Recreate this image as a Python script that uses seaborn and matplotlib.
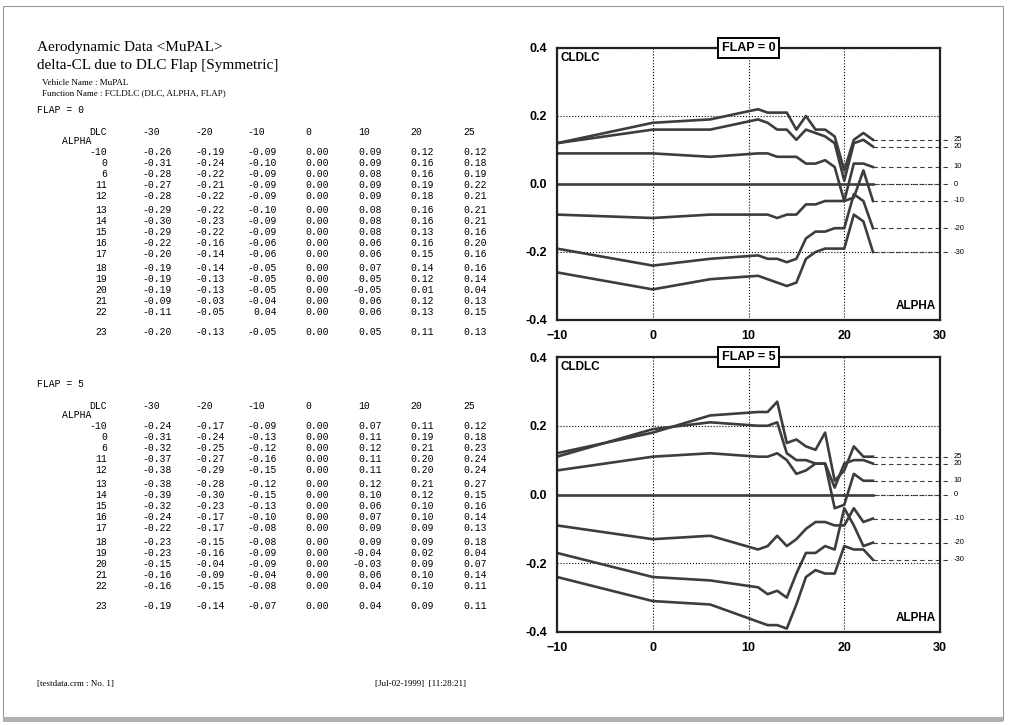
import numpy as np
import pandas as pd
import seaborn as sns
import matplotlib.pyplot as plt
from matplotlib.patches import Rectangle

# ---- data ----
alpha = [-10, 0, 6, 11, 12, 13, 14, 15, 16, 17, 18, 19, 20, 21, 22, 23]
dlc = [-30, -20, -10, 0, 10, 20, 25]

# CLDLC for FLAP = 0, one row per ALPHA, one column per DLC
flap0 = [
    [-0.26, -0.19, -0.09, 0.00, 0.09, 0.12, 0.12],
    [-0.31, -0.24, -0.10, 0.00, 0.09, 0.16, 0.18],
    [-0.28, -0.22, -0.09, 0.00, 0.08, 0.16, 0.19],
    [-0.27, -0.21, -0.09, 0.00, 0.09, 0.19, 0.22],
    [-0.28, -0.22, -0.09, 0.00, 0.09, 0.18, 0.21],
    [-0.29, -0.22, -0.10, 0.00, 0.08, 0.16, 0.21],
    [-0.30, -0.23, -0.09, 0.00, 0.08, 0.16, 0.21],
    [-0.29, -0.22, -0.09, 0.00, 0.08, 0.13, 0.16],
    [-0.22, -0.16, -0.06, 0.00, 0.06, 0.16, 0.20],
    [-0.20, -0.14, -0.06, 0.00, 0.06, 0.15, 0.16],
    [-0.19, -0.14, -0.05, 0.00, 0.07, 0.14, 0.16],
    [-0.19, -0.13, -0.05, 0.00, 0.05, 0.12, 0.14],
    [-0.19, -0.13, -0.05, 0.00, -0.05, 0.01, 0.04],
    [-0.09, -0.03, -0.04, 0.00, 0.06, 0.12, 0.13],
    [-0.11, -0.05, 0.04, 0.00, 0.06, 0.13, 0.15],
    [-0.20, -0.13, -0.05, 0.00, 0.05, 0.11, 0.13],
]

# CLDLC for FLAP = 5
flap5 = [
    [-0.24, -0.17, -0.09, 0.00, 0.07, 0.11, 0.12],
    [-0.31, -0.24, -0.13, 0.00, 0.11, 0.19, 0.18],
    [-0.32, -0.25, -0.12, 0.00, 0.12, 0.21, 0.23],
    [-0.37, -0.27, -0.16, 0.00, 0.11, 0.20, 0.24],
    [-0.38, -0.29, -0.15, 0.00, 0.11, 0.20, 0.24],
    [-0.38, -0.28, -0.12, 0.00, 0.12, 0.21, 0.27],
    [-0.39, -0.30, -0.15, 0.00, 0.10, 0.12, 0.15],
    [-0.32, -0.23, -0.13, 0.00, 0.06, 0.10, 0.16],
    [-0.24, -0.17, -0.10, 0.00, 0.07, 0.10, 0.14],
    [-0.22, -0.17, -0.08, 0.00, 0.09, 0.09, 0.13],
    [-0.23, -0.15, -0.08, 0.00, 0.09, 0.09, 0.18],
    [-0.23, -0.16, -0.09, 0.00, -0.04, 0.02, 0.04],
    [-0.15, -0.04, -0.09, 0.00, -0.03, 0.09, 0.07],
    [-0.16, -0.09, -0.04, 0.00, 0.06, 0.10, 0.14],
    [-0.16, -0.15, -0.08, 0.00, 0.04, 0.10, 0.11],
    [-0.19, -0.14, -0.07, 0.00, 0.04, 0.09, 0.11],
]

W, H = 1009, 725
line_color = "#3d3d3d"
serif = "Liberation Serif"
mono = "Liberation Mono"
sans = "Liberation Sans"
tsize = 7


def fx(x):
    return x / W


def fy(y):
    return 1 - y / H


def draw_table(fig, table, flap, y0):
    # y0 = pixel row of the "FLAP = n" line
    fig.text(fx(37), fy(y0), f"FLAP = {flap}", family=mono, size=tsize, va="center")
    col_right = [172 + 52.4 * j for j in range(len(dlc))]
    cw = 0.6 * tsize * 100 / 72
    yh = y0 + 22
    fig.text(fx(107), fy(yh), "DLC", family=mono, size=tsize, va="center", ha="right")
    for j, d in enumerate(dlc):
        first = f"{table[0][j]:.2f}"
        fig.text(fx(col_right[j] - len(first) * cw), fy(yh), str(d),
                 family=mono, size=tsize, va="center", ha="left")
    fig.text(fx(62), fy(yh + 9), "ALPHA", family=mono, size=tsize, va="center")
    y = yh + 20
    for i, a in enumerate(alpha):
        if a in (13, 18):
            y += 3
        if a == 23:
            y += 9
        fig.text(fx(107), fy(y), str(a), family=mono, size=tsize, va="center", ha="right")
        for j in range(len(dlc)):
            fig.text(fx(col_right[j]), fy(y), f"{table[i][j]:.2f}",
                     family=mono, size=tsize, va="center", ha="right")
        y += 11


def draw_chart(ax, table, flap):
    df = pd.DataFrame(table, index=alpha, columns=dlc)
    long = (df.reset_index().rename(columns={"index": "ALPHA"})
            .melt(id_vars="ALPHA", var_name="DLC", value_name="CLDLC"))
    sns.lineplot(data=long, x="ALPHA", y="CLDLC", hue="DLC",
                 palette=[line_color] * len(dlc), legend=False,
                 estimator=None, lw=1.9, ax=ax)

    for d in dlc:
        last = df[d].iloc[-1]
        ax.plot([alpha[-1], 31.2], [last, last], ls=(0, (4, 3)),
                color=line_color, lw=0.8, clip_on=False)
        ax.text(31.4, last, str(d), family=sans, size=5.5, va="center",
                ha="left", clip_on=False)

    ax.set_xlim(-10, 30)
    ax.set_ylim(-0.4, 0.4)
    ax.set_xticks([-10, 0, 10, 20, 30])
    ax.set_yticks([-0.4, -0.2, 0.0, 0.2, 0.4])
    ax.set_yticklabels([f"{v:.1f}" for v in [-0.4, -0.2, 0.0, 0.2, 0.4]])
    ax.grid(True, ls=":", color="black", lw=0.8)
    ax.set_xlabel("")
    ax.set_ylabel("")
    ax.tick_params(length=0, pad=7, labelsize=9)
    for lab in ax.get_xticklabels() + ax.get_yticklabels():
        lab.set_fontfamily(sans)
        lab.set_fontweight("bold")
    for s in ax.spines.values():
        s.set_linewidth(1.6)
        s.set_color("#222222")

    ax.text(0.01, 0.985, "CLDLC", transform=ax.transAxes, family=sans,
            weight="bold", size=8.5, va="top", ha="left")
    ax.text(0.99, 0.03, "ALPHA", transform=ax.transAxes, family=sans,
            weight="bold", size=8.5, va="bottom", ha="right")
    ax.text(0.5, 1.0, f"FLAP = {flap}", transform=ax.transAxes, family=sans,
            weight="bold", size=9, va="center", ha="center",
            bbox=dict(boxstyle="square,pad=0.3", fc="white", ec="black", lw=1.4))


fig = plt.figure(figsize=(W / 100, H / 100), dpi=100)
fig.patch.set_facecolor("white")

# page border of the scanned sheet
fig.add_artist(Rectangle((fx(3), fy(720)), fx(1003 - 3), (720 - 6) / H,
                         fill=False, ec="#9a9a9a", lw=0.8))
fig.add_artist(Rectangle((fx(3), fy(722)), fx(1003 - 3), 5 / H,
                         fc="#b0b0b0", ec="none"))

# header text
fig.text(fx(37), fy(48), "Aerodynamic Data <MuPAL>", family=serif, size=11, va="center")
fig.text(fx(37), fy(66), "delta-CL due to DLC Flap [Symmetric]", family=serif, size=11, va="center")
fig.text(fx(42), fy(83), "Vehicle Name : MuPAL", family=serif, size=6.5, va="center")
fig.text(fx(42), fy(93), "Function Name : FCLDLC (DLC, ALPHA, FLAP)", family=serif, size=6.5, va="center")

draw_table(fig, flap0, 0, 110)
draw_table(fig, flap5, 5, 384)

fig.text(fx(37), fy(684), "[testdata.crm : No. 1]", family=serif, size=6.5, va="center")
fig.text(fx(375), fy(684), "[Jul-02-1999]  [11:28:21]", family=serif, size=6.5, va="center")

ax1 = fig.add_axes([fx(557), fy(320), fx(940 - 557), (320 - 48) / H])
ax2 = fig.add_axes([fx(557), fy(632), fx(940 - 557), (632 - 357) / H])
draw_chart(ax1, flap0, 0)
draw_chart(ax2, flap5, 5)

fig.savefig("out.png", dpi=100)
